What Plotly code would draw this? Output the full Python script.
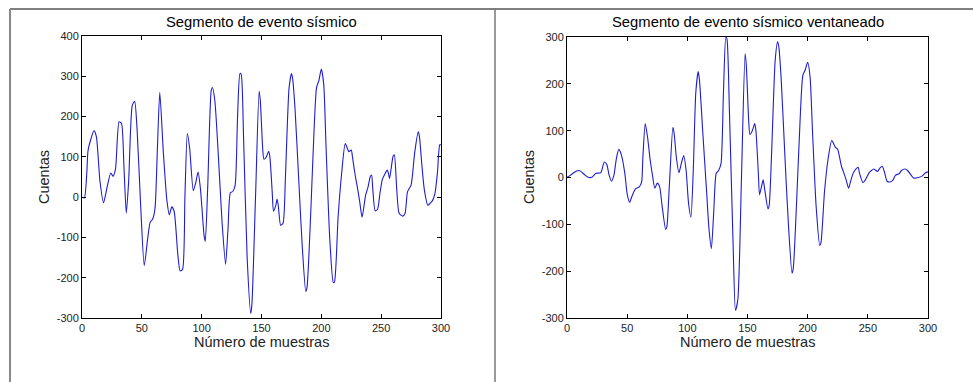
import plotly.graph_objects as go

# ---- data ----
muestras_orig = [0, 2, 4, 5, 7, 10, 12, 15, 18, 21, 24, 26, 28, 31, 33, 35, 37, 39, 42, 44, 46, 49, 52, 55, 57, 59, 61, 63, 65,
                 68, 71, 73, 75, 77, 80, 82, 84, 86, 88, 90, 93, 95, 97, 99, 102, 103, 105, 108, 109, 111, 114, 117, 120,
                 122, 124, 126, 128, 130, 132, 133, 135, 138, 141, 142, 145, 148, 149, 151, 152, 154, 156, 157, 159, 160,
                 162, 163, 164, 166, 168, 170, 173, 175, 176, 178, 181, 184, 187, 188, 191, 193, 196, 198, 200, 202, 204,
                 207, 210, 211, 214, 217, 220, 223, 225, 226, 228, 230, 232, 234, 236, 237, 239, 241, 242, 243, 245, 247,
                 249, 251, 253, 255, 256, 257, 259, 260, 261, 263, 265, 268, 270, 272, 275, 276, 278, 281, 282, 284, 286,
                 289, 291, 293, 295, 297, 299, 300]
cuentas_orig = [0, -2, 60, 115, 140, 165, 150, 40, -14, 25, 60, 52, 70, 187, 183, 80, -40, 40, 228, 238, 170, -20, -170,
                -100, -62, -55, -28, 120, 260, 110, -10, -44, -24, -35, -140, -183, -180, 0, 158, 120, 16, 35, 62, 20, -95,
                -110, 20, 265, 272, 240, 100, -60, -167, -80, 11, 14, 30, 200, 307, 305, 150, -150, -289, -265, 0, 263,
                240, 120, 94, 100, 114, 100, 10, -35, -20, -5, -20, -70, -65, 50, 270, 307, 295, 220, 50, -120, -234,
                -225, -50, 100, 272, 290, 318, 280, 120, -100, -212, -210, -50, 60, 133, 113, 117, 100, 60, 26, -10, -50,
                -15, 5, 25, 52, 55, 20, -34, -30, 10, 44, 57, 67, 60, 46, 85, 102, 105, 20, -40, -47, -40, 13, 30, 50,
                110, 162, 150, 80, 20, -20, -15, -8, 10, 60, 130, 130]

muestras_vent = [0, 3, 5, 8, 10, 12, 15, 18, 21, 24, 28, 31, 33, 35, 37, 39, 41, 43, 45, 48, 50, 52, 54, 57, 60, 62, 63, 65,
                 67, 69, 71, 73, 75, 77, 79, 82, 83, 85, 88, 89, 91, 93, 95, 97, 99, 101, 103, 105, 107, 109, 110, 113,
                 116, 118, 120, 122, 124, 126, 128, 130, 132, 133, 135, 138, 140, 142, 145, 148, 149, 151, 152, 154, 156,
                 157, 159, 160, 162, 163, 164, 167, 168, 170, 173, 175, 176, 178, 181, 184, 187, 188, 191, 193, 196, 198,
                 200, 202, 204, 207, 210, 211, 214, 217, 220, 223, 225, 226, 228, 230, 232, 234, 236, 238, 240, 242, 243,
                 246, 248, 251, 253, 255, 258, 260, 262, 264, 266, 269, 271, 273, 276, 278, 281, 283, 286, 288, 292, 295,
                 298, 300]
cuentas_vent = [0, 5, 9, 14, 15, 12, 5, 0, 1, 9, 10, 33, 28, 5, -8, 5, 40, 60, 50, 10, -35, -53, -40, -24, -20, -10, 40,
                115, 85, 40, 5, -23, -12, -20, -60, -111, -105, -20, 107, 95, 40, 10, 30, 47, 15, -55, -85, 20, 180, 226,
                210, 90, -30, -110, -152, -70, 9, 15, 30, 180, 301, 295, 140, -140, -284, -260, 0, 264, 240, 120, 92,
                100, 115, 100, 10, -37, -15, -5, -20, -67, -60, 50, 250, 290, 280, 210, 50, -100, -204, -195, -40, 80,
                218, 230, 246, 215, 100, -60, -145, -140, -30, 40, 79, 65, 60, 50, 25, 10, -5, -23, -5, 10, 18, 22, 10,
                -11, -5, 10, 15, 18, 13, 20, 24, 10, -8, -9, -5, 5, 8, 15, 18, 15, 5, -1, 0, 3, 10, 12]

x_ticks = [0, 50, 100, 150, 200, 250, 300]
y_ticks_orig = [-300, -200, -100, 0, 100, 200, 300, 400]
y_ticks_vent = [-300, -200, -100, 0, 100, 200, 300]

titulos = ["Segmento de evento sísmico", "Segmento de evento sísmico ventaneado"]
x_label = "Número de muestras"
y_label = "Cuentas"

W, H = 973, 382
FONT = "Liberation Sans, Arial, sans-serif"
LINE = "rgb(30,30,205)"

def px_x(p):
    return p / W

def px_y(p):
    return (H - p) / H

def labels(vals):
    return [str(v) for v in vals]  # plain hyphen-minus like the original

fig = go.Figure()
fig.add_trace(go.Scatter(x=muestras_orig, y=cuentas_orig, mode="lines", xaxis="x", yaxis="y",
                         line=dict(color=LINE, width=1.1, shape="spline", smoothing=0.6), showlegend=False))
fig.add_trace(go.Scatter(x=muestras_vent, y=cuentas_vent, mode="lines", xaxis="x2", yaxis="y2",
                         line=dict(color=LINE, width=1.1, shape="spline", smoothing=0.6), showlegend=False))

axis_common = dict(showline=True, linecolor="black", linewidth=1, mirror="ticks", ticks="inside",
                   ticklen=4, tickcolor="black", tickwidth=1, showgrid=False, zeroline=False,
                   automargin=False, tickfont=dict(family=FONT, size=11, color="#222"))

fig.update_layout(
    width=W, height=H,
    margin=dict(l=0, r=0, t=0, b=0),
    paper_bgcolor="white", plot_bgcolor="white",
    xaxis=dict(domain=[px_x(82), px_x(441)], range=[0, 300], tickvals=x_ticks, ticktext=labels(x_ticks),
               anchor="y", **axis_common),
    yaxis=dict(domain=[px_y(318), px_y(36)], range=[-300, 400], tickvals=y_ticks_orig,
               ticktext=labels(y_ticks_orig), anchor="x", **axis_common),
    xaxis2=dict(domain=[px_x(567), px_x(928)], range=[0, 300], tickvals=x_ticks, ticktext=labels(x_ticks),
                anchor="y2", **axis_common),
    yaxis2=dict(domain=[px_y(318), px_y(37)], range=[-300, 300], tickvals=y_ticks_vent,
                ticktext=labels(y_ticks_vent), anchor="x2", **axis_common),
)

annots = []
for cx, t in [(261.5, titulos[0]), (747.5, titulos[1])]:
    annots.append(dict(text=t, x=px_x(cx), y=px_y(22), xref="paper", yref="paper", showarrow=False,
                       xanchor="center", yanchor="middle", font=dict(family=FONT, size=14.8, color="black")))
    annots.append(dict(text=x_label, x=px_x(cx), y=px_y(342), xref="paper", yref="paper", showarrow=False,
                       xanchor="center", yanchor="middle", font=dict(family=FONT, size=14.5, color="#222")))
for cx, cy in [(44, 177), (529, 177)]:
    annots.append(dict(text=y_label, x=px_x(cx), y=px_y(cy), xref="paper", yref="paper", showarrow=False,
                       textangle=-90, xanchor="center", yanchor="middle", font=dict(family=FONT, size=14.5, color="#222")))
fig.update_layout(annotations=annots)

shapes = [
    dict(type="line", xref="paper", yref="paper", x0=px_x(10), x1=1, y0=px_y(9), y1=px_y(9),
         line=dict(color="black", width=1)),
    dict(type="line", xref="paper", yref="paper", x0=px_x(10), x1=px_x(10), y0=0, y1=px_y(9),
         line=dict(color="#888", width=2)),
    dict(type="line", xref="paper", yref="paper", x0=px_x(495), x1=px_x(495), y0=0, y1=px_y(9),
         line=dict(color="#777", width=1.5)),
]
fig.update_layout(shapes=shapes)

fig.write_html("out.html", config={"displayModeBar": False},
               post_script="document.body.style.margin='0';document.body.style.overflow='hidden';")
